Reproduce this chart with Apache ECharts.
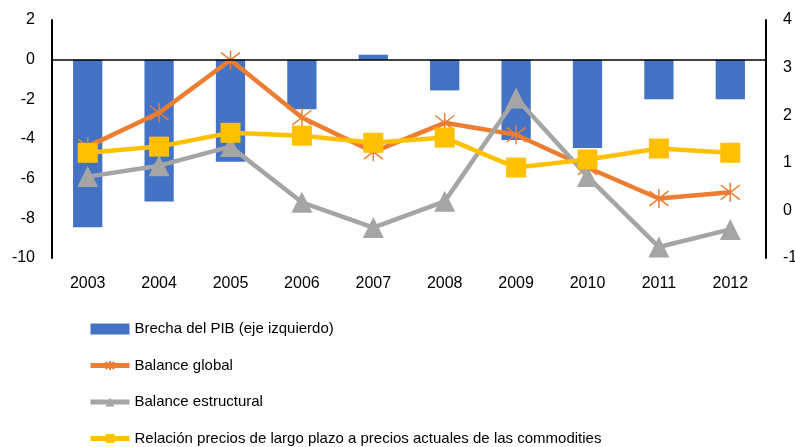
<!DOCTYPE html>
<html>
<head>
<meta charset="utf-8">
<script src="https://cdn.jsdelivr.net/npm/echarts@6/dist/echarts.min.js"></script>
<style>
  html, body { margin: 0; padding: 0; background: #fff; }
  #main { width: 795px; height: 447px; }
</style>
</head>
<body>
<div id="main"></div>
<script>
const years = ['2003', '2004', '2005', '2006', '2007', '2008', '2009', '2010', '2011', '2012'];
// eje izquierdo
const brechaPib = [-8.45, -7.15, -5.15, -2.5, 0.25, -1.55, -4.05, -4.45, -2.0, -2.0];
// eje derecho
const balanceGlobal = [1.34, 2.05, 3.16, 1.95, 1.23, 1.84, 1.59, 0.9, 0.25, 0.38];
const balanceEstructural = [0.71, 0.94, 1.34, 0.17, -0.36, 0.19, 2.36, 0.71, -0.77, -0.4];
const relacionPrecios = [1.21, 1.34, 1.63, 1.57, 1.42, 1.53, 0.9, 1.07, 1.3, 1.21];
const leftTicks = [-10, 2, 2];   // min, max, interval
const rightTicks = [-1, 4, 1];

const names = [
  'Brecha del PIB (eje izquierdo)',
  'Balance global',
  'Balance estructural',
  'Relación precios de largo plazo a precios actuales de las commodities'
];

const font = 'Liberation Sans, Arial, sans-serif';
const asterisk = 'path://M0,0L10,10M10,0L0,10M5,-1.5L5,11.5';

const chart = echarts.init(document.getElementById('main'));
chart.setOption({
  animation: false,
  textStyle: { fontFamily: font },
  grid: { left: 52, right: 29, top: 20, bottom: 189, outerBoundsMode: 'none' },
  legend: {
    orient: 'vertical',
    left: 83,
    top: 315,
    height: 200,
    itemGap: 18.5,
    itemWidth: 39,
    itemHeight: 11,
    lineStyle: { width: 5 },
    textStyle: { fontSize: 15, color: '#000', fontFamily: font, lineHeight: 18 },
    data: [
      { name: names[0], icon: 'rect', itemStyle: { color: '#4472C4' } },
      names[1], names[2], names[3]
    ]
  },
  xAxis: {
    type: 'category',
    data: years,
    axisLine: { show: false },
    axisTick: { show: false },
    axisLabel: { color: '#000', fontSize: 16, margin: 18 }
  },
  yAxis: [
    {
      type: 'value',
      min: leftTicks[0], max: leftTicks[1], interval: leftTicks[2],
      axisLine: { show: true, onZero: false, lineStyle: { color: '#000', width: 2 } },
      axisTick: { show: false },
      splitLine: { show: false },
      axisLabel: { color: '#000', fontSize: 16, margin: 17 }
    },
    {
      type: 'value',
      min: rightTicks[0], max: rightTicks[1], interval: rightTicks[2],
      position: 'right',
      axisLine: { show: true, onZero: false, lineStyle: { color: '#000', width: 2 } },
      axisTick: { show: false },
      splitLine: { show: false },
      axisLabel: { color: '#000', fontSize: 16, margin: 17 }
    }
  ],
  series: [
    {
      name: names[0],
      type: 'bar',
      yAxisIndex: 0,
      data: brechaPib,
      barWidth: '41%',
      itemStyle: { color: '#4472C4' },
      markLine: {
        silent: true,
        symbol: 'none',
        label: { show: false },
        lineStyle: { color: '#000', width: 1.5, type: 'solid' },
        data: [{ yAxis: 0 }]
      }
    },
    {
      name: names[1],
      type: 'line',
      yAxisIndex: 1,
      data: balanceGlobal,
      symbol: asterisk,
      symbolSize: 19,
      lineStyle: { color: '#ED7D31', width: 4.5 },
      itemStyle: { color: '#ED7D31', borderColor: '#ED7D31', borderWidth: 1.5 },
      z: 2
    },
    {
      name: names[2],
      type: 'line',
      yAxisIndex: 1,
      data: balanceEstructural,
      symbol: 'triangle',
      symbolSize: 21,
      lineStyle: { color: '#A5A5A5', width: 4.5 },
      itemStyle: { color: '#A5A5A5' },
      z: 3
    },
    {
      name: names[3],
      type: 'line',
      yAxisIndex: 1,
      data: relacionPrecios,
      symbol: 'rect',
      symbolSize: 20,
      lineStyle: { color: '#FFC000', width: 4.5 },
      itemStyle: { color: '#FFC000' },
      z: 4
    }
  ]
});
</script>
</body>
</html>
